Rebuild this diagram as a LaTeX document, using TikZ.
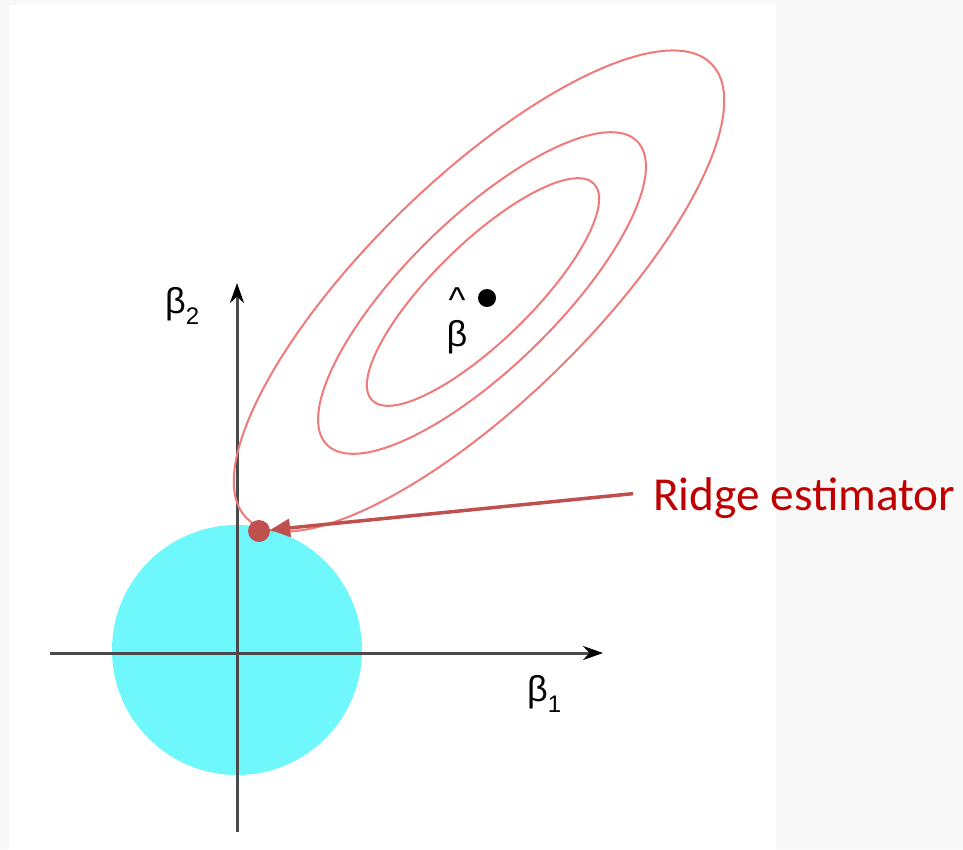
\documentclass[tikz,border=0pt]{standalone}
\usepackage{fontspec}
\usetikzlibrary{arrows.meta}
\newfontfamily\grk{Liberation Sans}
\newfontfamily\carlito{Carlito}
\definecolor{bggray}{HTML}{F8F8F8}
\definecolor{ballcyan}{HTML}{6FF8FB}
\definecolor{axisgray}{HTML}{4A4A4A}
\definecolor{ellred}{HTML}{F07A7A}
\definecolor{ridgetext}{HTML}{C00000}
\definecolor{ridgered}{HTML}{C0504D}
\tikzset{
  axisline/.style={draw=axisgray, line width=3pt, -{Stealth[length=20pt,width=14pt,color=black]}},
  contour/.style={draw=ellred, line width=2pt},
  greeklabel/.style={inner sep=0, font=\grk\fontsize{36}{36}\selectfont},
  ridgearrow/.style={draw=ridgered, line width=3.5pt, -{Triangle[length=20pt,width=18pt]}},
}
\begin{document}
\begin{tikzpicture}[x=1pt,y=-1pt]
\useasboundingbox (0,0) rectangle (963,849);
\fill[bggray] (0,0) rectangle (963,849);
\fill[white] (9,5) rectangle (776,849);
% constraint region
\fill[ballcyan] (237,650) circle [radius=125];
% axes
\coordinate (xs) at (50,653);
\coordinate (xe) at (603,653);
\coordinate (ys) at (237,832);
\coordinate (ye) at (237,283);
\draw[axisline] (xs) -- (xe);
\draw[axisline] (ys) -- (ye);
% contours
\draw[contour, rotate around={44.3:(479,291)}] (479,291) ellipse [x radius=325, y radius=111];
\draw[contour, rotate around={44.3:(482,293)}] (482,293) ellipse [x radius=217, y radius=75];
\draw[contour, rotate around={44.3:(483,292)}] (483,292) ellipse [x radius=155, y radius=49];
% OLS estimate
\node[fill=black, circle, minimum size=18pt, inner sep=0] (bhdot) at (487,298) {};
\node[greeklabel, anchor=base] (bhat) at (457,346) {\shortstack{\textasciicircum\\[4pt]β}};
% axis labels
\node[greeklabel, anchor=base west] (b2) at (165,313) {β\raisebox{-11pt}{\fontsize{24}{24}\selectfont 2}};
\node[greeklabel, anchor=base west] (b1) at (527,701) {β\raisebox{-11pt}{\fontsize{24}{24}\selectfont 1}};
% ridge estimator
\node[fill=ridgered, circle, minimum size=22pt, inner sep=0] (est) at (259,531) {};
\node[anchor=base west, inner sep=0, text=ridgetext, font=\carlito\fontsize{47.3}{50}\selectfont] (lbl) at (653,510) {Ridge estimator};
\draw[ridgearrow] ([xshift=-20pt,yshift=4pt]lbl.west) -- (est);
\end{tikzpicture}
\end{document}
